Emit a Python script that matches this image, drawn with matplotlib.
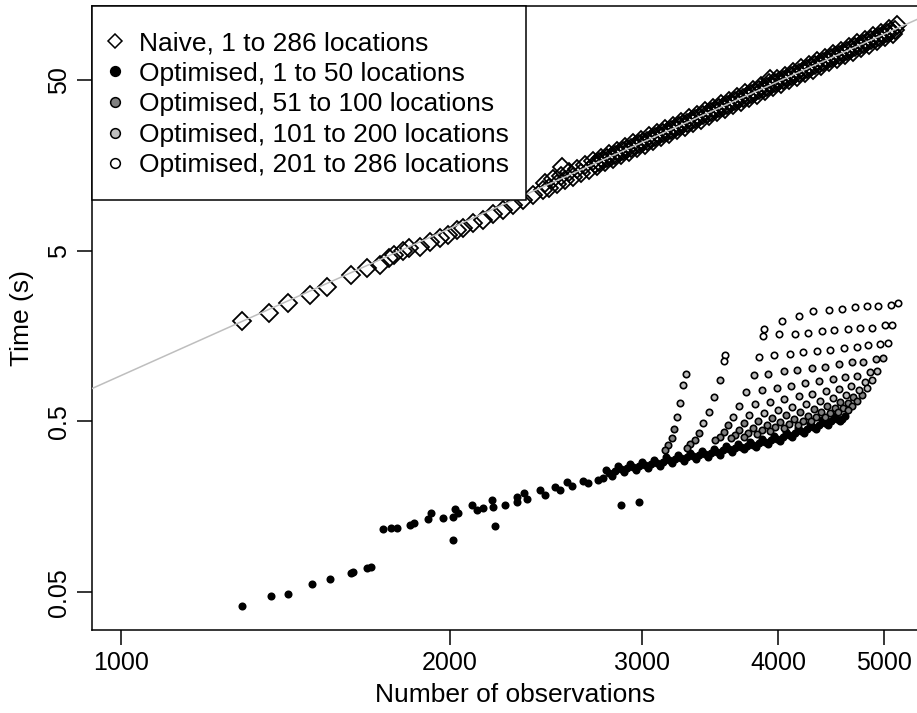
import matplotlib
matplotlib.use("Agg")
import matplotlib.pyplot as plt
from matplotlib.lines import Line2D
from matplotlib.patches import Rectangle
from matplotlib.ticker import NullLocator

plt.rcParams["font.family"] = ["Liberation Sans", "DejaVu Sans"]
plt.rcParams["font.size"] = 18

# naive fit, all location counts
naive_obs = [1291, 1366, 1422, 1490, 1544, 1625, 1679, 1727, 1760, 1778,
             1813, 1835, 1878, 1919, 1960, 1990, 2031, 2057, 2101, 2146,
             2191, 2237, 2284, 2332, 2381, 2432, 2534, 3930,
             2445, 2466, 2486, 2507, 2528, 2550, 2571, 2593, 2615, 2637,
             2659, 2682, 2705, 2728, 2751, 2774, 2798, 2821, 2845, 2869,
             2894, 2918, 2943, 2968, 2993, 3018, 3044, 3070, 3096, 3122,
             3148, 3175, 3202, 3229, 3257, 3284, 3312, 3340, 3369, 3397,
             3426, 3455, 3484, 3514, 3544, 3574, 3604, 3635, 3665, 3696,
             3728, 3759, 3791, 3823, 3856, 3888, 3921, 3954, 3988, 4022,
             4056, 4090, 4125, 4160, 4195, 4231, 4267, 4303, 4339, 4376,
             4413, 4450, 4488, 4526, 4564, 4603, 4642, 4681, 4721, 4761,
             4801, 4842, 4883, 4924, 4966, 5008, 5050, 5093, 5136,
             2716, 2740, 2763, 2786, 2810, 2833, 2857, 2881,
             2906, 2930, 2955, 2981, 3006, 3031, 3057, 3083, 3109, 3135,
             3161, 3188, 3216, 3243, 3271, 3298, 3326, 3354, 3383, 3411,
             3440, 3470, 3499, 3529, 3559, 3589, 3619, 3650, 3681, 3712,
             3744, 3775, 3807, 3839, 3872, 3904, 3938, 3971, 4005, 4039,
             4073, 4107, 4142, 4178, 4213, 4249, 4285, 4321, 4357, 4395,
             4432, 4469, 4507, 4545, 4583, 4622, 4662, 4701, 4741, 4781,
             4821, 4862, 4904, 4945, 4987, 5029, 5071, 5115]
naive_time = [1.94, 2.16, 2.47, 2.75, 3.08, 3.6, 3.95, 4.15, 4.55, 4.74,
              4.96, 5.21, 5.28, 5.65, 5.96, 6.22, 6.64, 6.82, 7.30, 7.60,
              8.16, 8.70, 9.32, 9.95, 10.6, 11.4, 15.4, 50.7,
              12.50, 11.72, 13.12, 12.30, 13.77, 12.91, 14.44, 13.55, 15.15, 14.22,
              15.90, 14.92, 16.69, 15.66, 17.51, 16.44, 18.38, 17.24, 19.29, 18.10,
              20.24, 18.98, 21.25, 19.93, 22.29, 20.91, 23.38, 21.94, 24.54, 23.03,
              25.76, 24.17, 27.04, 25.36, 28.37, 26.61, 29.77, 27.92, 31.25, 29.31,
              32.78, 30.76, 34.40, 32.28, 36.10, 33.86, 37.89, 35.55, 39.77, 37.31,
              41.73, 39.16, 43.79, 41.08, 45.96, 43.11, 48.23, 45.24, 50.61, 47.48,
              53.12, 49.83, 55.74, 52.29, 58.50, 54.87, 61.39, 57.60, 64.42, 60.44,
              67.60, 63.42, 70.94, 66.56, 74.45, 69.85, 78.14, 73.30, 82.00, 76.92,
              86.05, 80.73, 90.31, 84.72, 94.77, 88.90, 99.45, 93.31, 104.4,
              16.16, 16.56, 16.96, 17.38, 17.80, 18.24, 18.68, 19.14,
              19.60, 20.08, 20.58, 21.07, 21.59, 22.11, 22.65, 23.21, 23.77, 24.35,
              24.95, 25.56, 26.18, 26.82, 27.48, 28.15, 28.83, 29.53, 30.26, 31.00,
              31.75, 32.53, 33.32, 34.14, 34.97, 35.82, 36.70, 37.59, 38.51, 39.45,
              40.41, 41.41, 42.42, 43.45, 44.51, 45.60, 46.71, 47.85, 49.02, 50.21,
              51.45, 52.70, 53.99, 55.30, 56.66, 58.03, 59.45, 60.91, 62.40, 63.91,
              65.47, 67.07, 68.71, 70.39, 72.11, 73.87, 75.67, 77.53, 79.42, 81.35,
              83.35, 85.38, 87.47, 89.60, 91.79, 94.02, 96.32, 98.68]

# fitted line (log-log)
fit_obs = [900, 6000]
fit_time = [0.688, 156.5]

# optimised, 1 to 50 locations
opt1_obs = [1291, 1372, 1422, 1496, 1554, 1625, 1631, 1679, 1693,
            1737, 1767, 1788, 1839, 1855, 1911, 1923, 1972, 2013, 2022,
            2035, 2013, 2096, 2118, 2146, 2186, 2191, 2200, 2246, 2302,
            2306, 2340, 2355, 2419, 2445, 2497, 2523, 2561, 2590, 2647,
            2675, 2731, 2760, 2871, 2982,
            2781, 2817, 2852, 2889, 2925, 2963, 3000, 3038, 3077, 3116,
            3156, 3196, 3236, 3278, 3320, 3362, 3404, 3448, 3492, 3536,
            3581, 3627, 3673, 3720, 3768, 3815, 3863, 3913, 3963, 4013,
            4064, 4116, 4168, 4221, 4275, 4329, 4384, 4440, 4496, 4554,
            4601,
            2799, 2834, 2870, 2907, 2944, 2981, 3019, 3057, 3096, 3136,
            3176, 3216, 3257, 3299, 3341, 3383, 3426, 3470, 3514, 3558,
            3604, 3650, 3696, 3744, 3791, 3839, 3888, 3938, 3988, 4038,
            4090, 4142, 4194, 4248, 4302, 4356, 4412, 4468, 4525, 4577]
opt1_time = [0.0414, 0.0475, 0.0487, 0.0558, 0.0597, 0.0647, 0.0656, 0.0692, 0.0700,
             0.117, 0.119, 0.119, 0.124, 0.127, 0.134, 0.145, 0.136, 0.138, 0.153,
             0.145, 0.101, 0.162, 0.151, 0.155, 0.173, 0.157, 0.122, 0.162, 0.180,
             0.168, 0.190, 0.176, 0.198, 0.185, 0.207, 0.198, 0.220, 0.210, 0.223,
             0.217, 0.227, 0.233, 0.161, 0.168,
             0.260, 0.240, 0.274, 0.253, 0.282, 0.260, 0.290, 0.267, 0.297, 0.274,
             0.310, 0.286, 0.318, 0.293, 0.327, 0.301, 0.335, 0.310, 0.344, 0.318,
             0.359, 0.331, 0.369, 0.344, 0.379, 0.354, 0.394, 0.369, 0.410, 0.384,
             0.433, 0.404, 0.457, 0.427, 0.482, 0.451, 0.509, 0.476, 0.538, 0.502,
             0.538,
             0.250, 0.256, 0.263, 0.267, 0.271, 0.275, 0.278, 0.282, 0.285, 0.291,
             0.298, 0.302, 0.305, 0.310, 0.314, 0.318, 0.322, 0.327, 0.331, 0.338,
             0.345, 0.349, 0.356, 0.361, 0.366, 0.373, 0.381, 0.389, 0.397, 0.408,
             0.418, 0.430, 0.442, 0.454, 0.466, 0.479, 0.492, 0.506, 0.520, 0.520]

# optimised, 51 to 100 locations
opt2_obs = [3210, 3196, 3170, 3149,
            3383, 3355, 3320, 3299,
            3597, 3566, 3536, 3500,
            3720, 3680, 3650, 3620,
            3831, 3792, 3752, 3720,
            3947, 3905, 3864, 3823,
            4065, 4013, 3972, 3930,
            4186, 4134, 4090, 4047,
            4311, 4257, 4213, 4169,
            4432, 4375, 4330, 4284,
            4554, 4507, 4460, 4413,
            4681, 4632, 4583, 4535,
            4770, 4721, 4672, 4632]
opt2_time = [0.451, 0.400, 0.364, 0.340,
             0.427, 0.389, 0.369, 0.350,
             0.476, 0.433, 0.405, 0.389,
             0.489, 0.445, 0.416, 0.400,
             0.502, 0.457, 0.427, 0.405,
             0.523, 0.476, 0.445, 0.422,
             0.545, 0.495, 0.463, 0.439,
             0.567, 0.516, 0.482, 0.457,
             0.591, 0.538, 0.502, 0.476,
             0.616, 0.567, 0.530, 0.502,
             0.649, 0.599, 0.560, 0.530,
             0.695, 0.641, 0.599, 0.567,
             0.714, 0.658, 0.616, 0.583]

# optimised, 101 to 200 locations
opt3_obs = [3292, 3271, 3250, 3230,
            3536, 3492, 3456, 3412,
            3800, 3736, 3680, 3635,
            3913, 3864, 3808, 3760,
            4047, 3988, 3930, 3880,
            4160, 4108, 4047, 3996,
            4293, 4231, 4177, 4116,
            4413, 4357, 4293, 4239,
            4545, 4488, 4422, 4366,
            4672, 4603, 4545, 4488,
            4781, 4721, 4662, 4613,
            4914, 4852, 4801, 4740,
            4988, 4925, 4873, 4821]
opt3_time = [0.948, 0.817, 0.641, 0.530,
             0.874, 0.695, 0.567, 0.489,
             0.935, 0.744, 0.616, 0.530,
             0.948, 0.764, 0.632, 0.545,
             0.987, 0.785, 0.649, 0.560,
             1.000, 0.806, 0.676, 0.583,
             1.027, 0.839, 0.704, 0.607,
             1.041, 0.862, 0.724, 0.632,
             1.085, 0.886, 0.754, 0.658,
             1.115, 0.910, 0.774, 0.685,
             1.115, 0.922, 0.806, 0.714,
             1.161, 0.973, 0.851, 0.764,
             1.176, 0.987, 0.874, 0.785]

# optimised, 201 to 286 locations
opt4_obs = [3574, 3566,
            3880, 3872, 3839,
            4030, 4005, 3963,
            4177, 4142, 4099,
            4302, 4257, 4213,
            4451, 4385, 4339,
            4574, 4498, 4460,
            4701, 4632, 4593,
            4821, 4750, 4721,
            4935, 4873, 4832,
            5072, 5009, 4956,
            5147, 5083, 5040]
opt4_time = [1.224, 1.130,
             1.738, 1.583, 1.191,
             1.937, 1.626, 1.224,
             2.073, 1.626, 1.241,
             2.217, 1.648, 1.275,
             2.247, 1.692, 1.292,
             2.278, 1.715, 1.310,
             2.340, 1.738, 1.346,
             2.372, 1.762, 1.364,
             2.372, 1.762, 1.401,
             2.404, 1.835, 1.420,
             2.469, 1.835, 1.439]

legend_labels = ["Naive, 1 to 286 locations",
                 "Optimised, 1 to 50 locations",
                 "Optimised, 51 to 100 locations",
                 "Optimised, 101 to 200 locations",
                 "Optimised, 201 to 286 locations"]
fills = ["black", "#808080", "#bebebe", "white"]

fig = plt.figure(figsize=(9.17, 7.13), dpi=100)
ax = fig.add_axes([92 / 917, 83 / 713, 847 / 917, 624 / 713])
ax.set_xscale("log")
ax.set_yscale("log")

ax.plot(naive_obs, naive_time, ls="none", marker="D", ms=9.5, mew=1.3,
        mfc="none", mec="black", zorder=2)
ax.plot(fit_obs, fit_time, color="#bebebe", lw=1.1, zorder=3)

opt_series = [(opt1_obs, opt1_time), (opt2_obs, opt2_time),
              (opt3_obs, opt3_time), (opt4_obs, opt4_time)]
for (xs, ys), fc in zip(opt_series, fills):
    ax.plot(xs, ys, ls="none", marker="o", ms=4.6, mew=1.2,
            mfc=fc, mec="black", zorder=4)

ax.set_xlim(940, 5612)
ax.set_ylim(0.0300, 135.7)
ax.set_xticks([1000, 2000, 3000, 4000, 5000])
ax.set_xticklabels(["1000", "2000", "3000", "4000", "5000"])
ax.set_yticks([0.05, 0.5, 5, 50])
ax.set_yticklabels(["0.05", "0.5", "5", "50"])
ax.xaxis.set_minor_locator(NullLocator())
ax.yaxis.set_minor_locator(NullLocator())
ax.tick_params(length=10.8, width=1.1, pad=4, labelsize=18)
plt.setp(ax.get_yticklabels(), rotation=90, va="center")
for s in ax.spines.values():
    s.set_linewidth(1.1)

ax.set_xlabel("Number of observations", fontsize=19, va="center")
ax.xaxis.set_label_coords(0.5, -65 / 624)
ax.set_ylabel("Time (s)", fontsize=19, va="center")
ax.yaxis.set_label_coords(-70 / 847, 0.5)

# legend box
ax.add_patch(Rectangle((0, (630 - 200) / 624), 434 / 847, 194 / 624,
                       transform=ax.transAxes, facecolor="white",
                       edgecolor="black", lw=1.1, zorder=6, clip_on=False))
handles = [Line2D([], [], ls="none", marker="D", ms=7, mew=1.1,
                  mfc="none", mec="black")]
for fc in fills:
    handles.append(Line2D([], [], ls="none", marker="o", ms=7, mew=1.1,
                          mfc=fc, mec="black"))
leg = ax.legend(handles, legend_labels, loc="upper left",
                bbox_to_anchor=((107 - 92) / 847, (630 - 31) / 624),
                frameon=False, borderpad=0, borderaxespad=0,
                handlelength=0.6, handletextpad=0.6, labelspacing=0.25,
                fontsize=19)
leg.set_zorder(7)

fig.savefig("out.png", dpi=100)
